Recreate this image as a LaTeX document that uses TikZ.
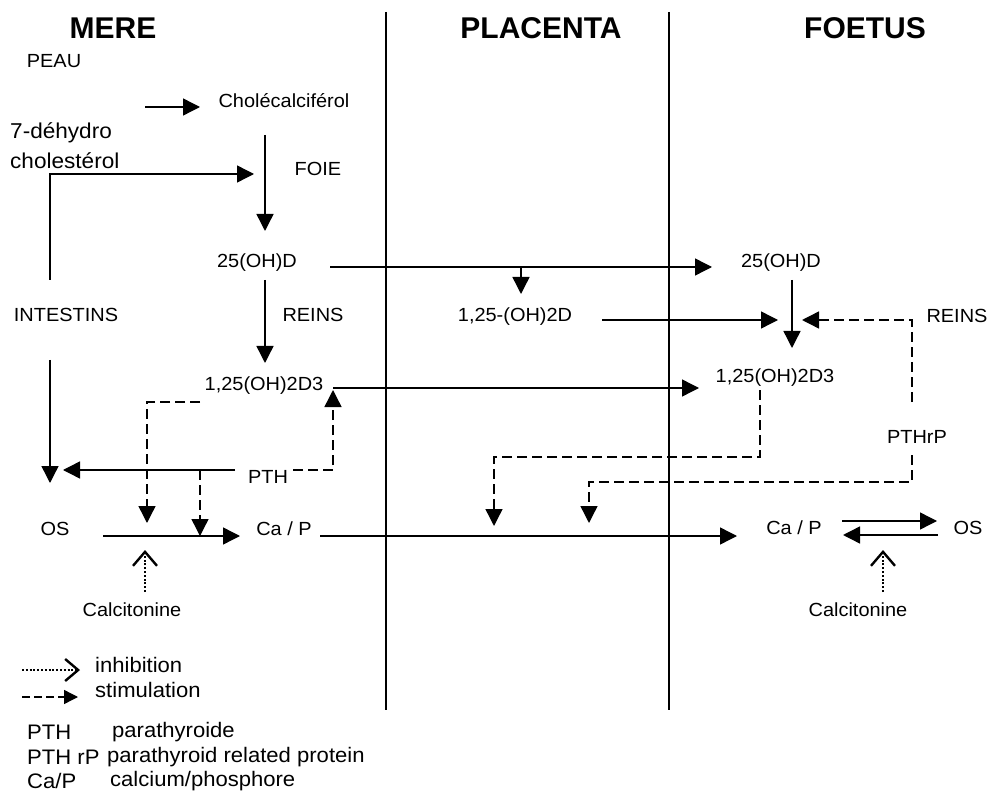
\documentclass[tikz,border=0pt]{standalone}
\usepackage{fontspec}
\setmainfont{Liberation Sans}[FakeStretch=1.05]
\newfontfamily\hdrfont{Liberation Sans}
\usetikzlibrary{arrows.meta}
\begin{document}
\begin{tikzpicture}[x=1pt,y=-1pt,
  lbl/.style={font=\fontsize{19}{21}\selectfont, inner sep=0},
  big/.style={font=\fontsize{21.5}{26}\selectfont, inner sep=0, anchor=west},
  hdr/.style={font=\hdrfont\bfseries\fontsize{30}{32}\selectfont, inner sep=0},
  leg/.style={font=\fontsize{21}{23}\selectfont, inner sep=0, anchor=west},
  sep/.style={line width=1.3pt},
  conn/.style={line width=1.4pt, -{Triangle[length=17pt,width=17pt]}},
  stim/.style={conn, dash pattern=on 10pt off 5pt},
  inhib/.style={line width=2.2pt, dash pattern=on 2pt off 1.8pt, -{Straight Barb[length=14pt,width=24pt,line width=2.4pt]}}]
\useasboundingbox (0,0) rectangle (991,794);
\fill[white] (0,0) rectangle (991,794);

% separators
\coordinate (s1t) at (386,12); \coordinate (s1b) at (386,710);
\coordinate (s2t) at (669,12); \coordinate (s2b) at (669,710);
\draw[sep] (s1t) -- (s1b);
\draw[sep] (s2t) -- (s2b);

% headers
\node[hdr] (mere) at (113,28) {MERE};
\node[hdr] (plac) at (541,28) {PLACENTA};
\node[hdr] (foet) at (865,28) {FOETUS};

% mother side
\node[lbl] (peau) at (54,61) {PEAU};
\node[big] (dhy1) at (10,133) {7-déhydro};
\node[big] (dhy2) at (10,161) {cholestérol};
\node[lbl] (chol) at (284,101) {Cholécalciférol};
\node[lbl] (foie) at (318,169) {FOIE};
\node[lbl] (ohdm) at (257,263) {25(OH)D};
\node[lbl] (intes) at (66,315) {INTESTINS};
\node[lbl] (reinsm) at (313,315) {REINS};
\node[lbl] (dtm) at (264,386) {1,25(OH)2D3};
\node[lbl] (pth) at (268,477) {PTH};
\node[lbl] (osm) at (55,529) {OS};
\node[lbl] (capm) at (284,529) {Ca / P};
\node[lbl] (calm) at (132,610) {Calcitonine};

% placenta
\node[lbl] (dp) at (515,317) {1,25-(OH)2D};

% foetus side
\node[lbl] (ohdf) at (781,263) {25(OH)D};
\node[lbl] (reinsf) at (957,316) {REINS};
\node[lbl] (dtf) at (775,378) {1,25(OH)2D3};
\node[lbl] (pthrp) at (917,437) {PTHrP};
\node[lbl] (capf) at (794,528) {Ca / P};
\node[lbl] (osf) at (968,528) {OS};
\node[lbl] (calf) at (858,610) {Calcitonine};

% coordinates
\coordinate (a1) at (145,107); \coordinate (a2) at (200,107);
\coordinate (i1) at (50,280); \coordinate (i2) at (50,174); \coordinate (i3) at (254,174);
\coordinate (c1) at (265,135); \coordinate (c2) at (265,231);
\coordinate (i4) at (50,360); \coordinate (i5) at (50,483);
\coordinate (o1) at (265,280); \coordinate (o2) at (265,363);
\coordinate (p1) at (235,470); \coordinate (p2) at (63,470);
\coordinate (p3) at (293,470); \coordinate (p4) at (333,470); \coordinate (p5) at (333,390);
\coordinate (d1) at (333,388); \coordinate (d2) at (699,388);
\coordinate (e1) at (200,402); \coordinate (e2) at (147,402); \coordinate (e3) at (147,523);
\coordinate (f1) at (200,470); \coordinate (f2) at (200,536);
\coordinate (g1) at (103,536); \coordinate (g2) at (240,536);
\coordinate (g3) at (320,536); \coordinate (g4) at (737,536);
\coordinate (k1) at (145,592); \coordinate (k2) at (145,550);
\coordinate (h1) at (330,267); \coordinate (h2) at (712,267);
\coordinate (h3) at (521,267); \coordinate (h4) at (521,294);
\coordinate (q1) at (602,320); \coordinate (q2) at (778,320);
\coordinate (r1) at (792,280); \coordinate (r2) at (792,348);
\coordinate (t1) at (912,402); \coordinate (t2) at (912,320); \coordinate (t3) at (802,320);
\coordinate (t4) at (912,455); \coordinate (t5) at (912,482); \coordinate (t6) at (589,482); \coordinate (t7) at (589,523);
\coordinate (u1) at (760,390); \coordinate (u2) at (760,457); \coordinate (u3) at (494,457); \coordinate (u4) at (494,526);
\coordinate (v1) at (842,521); \coordinate (v2) at (937,521);
\coordinate (v3) at (938,535); \coordinate (v4) at (843,535);
\coordinate (w1) at (883,592); \coordinate (w2) at (883,550);

% connectors
\draw[conn] (a1) -- (a2);
\draw[conn] (i1) -- (i2) -- (i3);
\draw[conn] (c1) -- (c2);
\draw[conn] (i4) -- (i5);
\draw[conn] (o1) -- (o2);
\draw[conn] (p1) -- (p2);
\draw[stim] (p3) -- (p4) -- (p5);
\draw[conn] (d1) -- (d2);
\draw[stim] (e1) -- (e2) -- (e3);
\draw[stim] (f1) -- (f2);
\draw[conn] (g1) -- (g2);
\draw[conn] (g3) -- (g4);
\draw[inhib] (k1) -- (k2);
\draw[conn] (h1) -- (h2);
\draw[conn] (h3) -- (h4);
\draw[conn] (q1) -- (q2);
\draw[conn] (r1) -- (r2);
\draw[stim] (t1) -- (t2) -- (t3);
\draw[stim] (t4) -- (t5) -- (t6) -- (t7);
\draw[stim] (u1) -- (u2) -- (u3) -- (u4);
\draw[conn] (v1) -- (v2);
\draw[conn] (v3) -- (v4);
\draw[inhib] (w1) -- (w2);

% legend
\coordinate (l1) at (22,670); \coordinate (l2) at (80,670);
\coordinate (l3) at (22,697); \coordinate (l4) at (78,697);
\draw[line width=2.2pt, dash pattern=on 2pt off 1.8pt, -{Straight Barb[length=13pt,width=22pt,line width=2.4pt]}] (l1) -- (l2);
\draw[line width=1.4pt, dash pattern=on 8pt off 4pt, -{Triangle[length=14pt,width=14pt]}] (l3) -- (l4);
\node[leg] (linh) at (95,665) {inhibition};
\node[leg] (lsti) at (95,690) {stimulation};
\node[leg] (k1a) at (27,732) {PTH};
\node[leg] (k1b) at (112,732) {parathyroide};
\node[leg] (k2a) at (27,757) {PTH rP};
\node[leg] (k2b) at (107,757) {parathyroid related protein};
\node[leg] (k3a) at (27,781) {Ca/P};
\node[leg] (k3b) at (110,781) {calcium/phosphore};
\end{tikzpicture}
\end{document}
